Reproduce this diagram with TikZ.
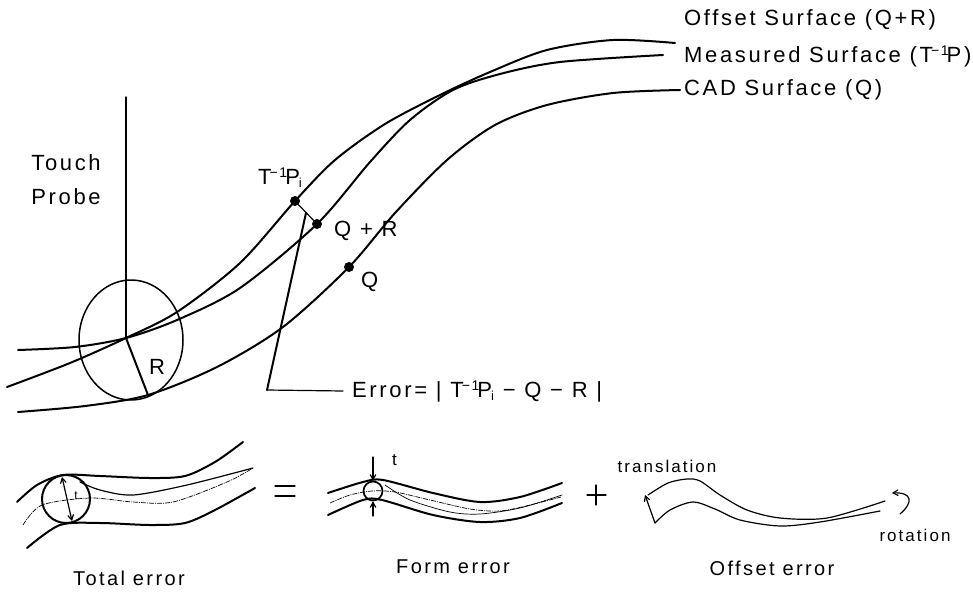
\documentclass[tikz,border=0pt]{standalone}
\usepackage{fontspec}
\setmainfont{Liberation Sans}[LetterSpace=12]
\usetikzlibrary{shapes.geometric, arrows, positioning}
\newcommand{\Tinv}{T\kern-1pt\raisebox{7pt}{\fontsize{14}{14}\selectfont\kern-1pt−1}\kern-2pt}
\newcommand{\Pisub}{P\kern-1pt\raisebox{-3pt}{\fontsize{13}{13}\selectfont i}}

\begin{document}
\begin{tikzpicture}[x=1pt, y=-1pt, >=angle 60]
    % Styles
    \tikzstyle{surface} = [line width=2pt, line cap=round, smooth]
    \tikzstyle{thinline} = [line width=1.2pt, line cap=round]
    \tikzstyle{centerline} = [line width=0.7pt, dash pattern=on 5pt off 1pt on 1pt off 1pt, smooth]
    \tikzstyle{label} = [inner sep=0pt, font=\fontsize{22}{25}\selectfont]
    \tikzstyle{caption} = [inner sep=0pt, font=\fontsize{20}{23}\selectfont]
    \tikzstyle{smalllabel} = [inner sep=0pt, font=\fontsize{17}{20}\selectfont]
    \tikzstyle{pointdot} = [circle, fill=black, inner sep=0pt, minimum size=10pt]
    \useasboundingbox (0,0) rectangle (973,591);

    % Points on the surfaces
    \coordinate (center) at (126,338);
    \node (ti) [pointdot] at (295,201) {};
    \node (qr) [pointdot] at (317,224) {};
    \node (q) [pointdot] at (349,267) {};
    \coordinate (contact) at (148,395);
    \coordinate (errtop) at (306,213);
    \coordinate (errcorner) at (267,390);

    % Main surfaces
    \draw[surface] plot coordinates {(7,387) (70,363) (126,338) (177,312) (240,263) (295,201) (335,160) (385,124) (440,95) (490,72) (547,50) (613,40) (675,43)};
    \draw[surface] plot coordinates {(18,350) (75,347) (126,338) (177,320) (240,288) (317,224) (370,162) (410,120) (453,90) (500,74) (560,62) (663,55)};
    \draw[surface] plot coordinates {(18,412) (85,406) (148,395) (217,367) (283,327) (349,267) (395,213) (447,160) (495,125) (547,105) (613,93) (680,90)};

    % Probe
    \node (probe) [ellipse, draw, line width=1.5pt, minimum width=104pt, minimum height=120pt, inner sep=0pt] at (131,340) {};
    \draw[thinline] (126,97) -- (center);
    \draw[surface] (center) -- (contact);
    \draw[thinline] (ti) -- (qr);
    \draw[surface] (errtop) -- (errcorner);
    \draw[thinline] (errcorner) -- (343,391);

    % Labels of the upper part
    \node[label, anchor=west] (offsetlabel) at (684,20) {Offset Surface (Q+R)};
    \node[label, anchor=west] (measuredlabel) at (684,56) {Measured Surface (\Tinv P)};
    \node[label, anchor=west] (cadlabel) at (684,90) {CAD Surface (Q)};
    \node[label, align=center] (touchlabel) at (66,180) {Touch\\[9pt]Probe};
    \node[label, anchor=west] (tilabel) at (258,178) {\Tinv\Pisub};
    \node[label, anchor=west] (qrlabel) at (334,231) {Q + R};
    \node[label, anchor=west] (qlabel) at (361,282) {Q};
    \node[label, anchor=west] (rlabel) at (149,367) {R};
    \node[label, anchor=west] (errlabel) at (352,392) {Error= | \Tinv\Pisub\ − Q − R |};

    % Total error
    \draw[surface] plot coordinates {(17,502) (37,485) (63,475) (100,476) (150,478) (185,476) (215,462) (243,442)};
    \draw[surface] plot coordinates {(27,548) (60,525) (100,523) (150,525) (185,523) (215,510) (255,488)};
    \draw[thinline, smooth] plot coordinates {(80,482) (100,490) (133,495) (187,485) (253,468)};
    \draw[centerline] plot coordinates {(23,525) (42,505) (90,498) (133,502) (173,502) (227,482) (253,468)};
    \node (totalcircle) [circle, draw, line width=2pt, minimum size=48pt, inner sep=0pt] at (66,499) {};
    \draw[thinline, <->] (62,477) -- (72,521);
    \node[inner sep=0pt, font=\fontsize{12}{12}\selectfont] (innert) at (76,496) {t};

    % Equals and plus
    \draw[thinline] (275,486) -- (295,486);
    \draw[thinline] (275,496) -- (295,496);
    \draw[thinline] (587,495) -- (606,495);
    \draw[thinline] (596,485) -- (596,505);

    % Form error
    \draw[surface] plot coordinates {(328,493) (363,482) (383,480) (433,493) (480,502) (520,497) (562,483)};
    \draw[surface] plot coordinates {(328,515) (363,500) (382,500) (433,515) (480,522) (520,518) (562,503)};
    \draw[thinline, line width=0.7pt, smooth] plot coordinates {(385,485) (410,500) (450,512) (480,514) (520,508) (562,495)};
    \draw[centerline] plot coordinates {(330,503) (350,495) (372,491) (395,492) (430,500) (470,509) (500,511) (530,505) (561,497)};
    \node (formcircle) [circle, draw, line width=1.7pt, minimum size=19pt, inner sep=0pt] at (373,491) {};
    \draw[thinline, ->] (373,457) -- (formcircle.north);
    \draw[thinline, ->] (373,516) -- (formcircle.south);
    \node[smalllabel, anchor=west] (tlabel) at (392,460) {t};

    % Offset error
    \coordinate (tail) at (655,523);
    \coordinate (head) at (645,495);
    \draw[thinline, smooth] plot coordinates {(648,495) (668,483) (687,479) (700,481) (720,495) (747,510) (780,518) (827,518) (885,501)};
    \draw[thinline, smooth] plot coordinates {(655,523) (670,510) (693,502) (715,509) (740,520) (780,526) (820,522) (880,511)};
    \draw[thinline, ->] (tail) -- (head);
    \draw[thinline, ->] (900,514) .. controls (914,502) and (912,492) .. (892,493);

    % Labels of the lower part
    \node[smalllabel] (translabel) at (667,466) {translation};
    \node[smalllabel] (rotlabel) at (915,535) {rotation};
    \node[caption] (totallabel) at (129,578) {Total error};
    \node[caption] (formlabel) at (453,567) {Form error};
    \node[caption] (offseterrlabel) at (772,568) {Offset error};
\end{tikzpicture}
\end{document}
